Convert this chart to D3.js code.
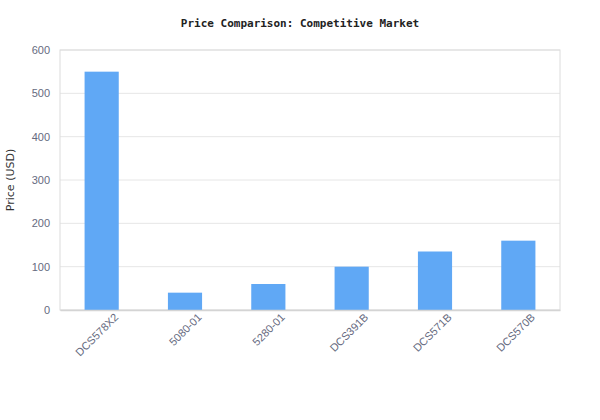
<!DOCTYPE html>
<html><head><meta charset="utf-8">
<script src="https://cdn.jsdelivr.net/npm/d3@7"></script>
<style>body{margin:0;background:#fff}</style>
</head><body><div id="chart"></div>
<script>
const models = ["DCS578X2", "5080-01", "5280-01", "DCS391B", "DCS571B", "DCS570B"];
const prices = [550, 40, 60, 100, 135, 160];
const yTicks = [0, 100, 200, 300, 400, 500, 600];

const svgWidth = 600, svgHeight = 420;
const margin = {top: 50, right: 40, bottom: 110, left: 60};
const width = svgWidth - margin.left - margin.right;
const height = svgHeight - margin.top - margin.bottom;

const svg = d3.select("#chart").append("svg")
    .attr("width", svgWidth).attr("height", svgHeight)
    .style("font-family", "'DejaVu Sans', sans-serif");

svg.append("text")
    .attr("x", svgWidth / 2).attr("y", 27)
    .attr("text-anchor", "middle")
    .style("font-family", "'DejaVu Sans Mono', monospace")
    .style("font-weight", "bold").style("font-size", "11px")
    .attr("fill", "#222")
    .text("Price Comparison: Competitive Market");

const g = svg.append("g").attr("transform", `translate(${margin.left},${margin.top})`);

const x = d3.scaleBand().domain(models).range([0, width]).paddingInner(0.59).paddingOuter(0.295);
const y = d3.scaleLinear().domain([0, 600]).range([height, 0]);

// gridlines
g.selectAll(".grid").data(yTicks).join("line")
    .attr("x1", 0).attr("x2", width)
    .attr("y1", d => y(d)).attr("y2", d => y(d))
    .attr("stroke", "#e6e6e6");

g.append("rect").attr("width", width).attr("height", height)
    .attr("fill", "none").attr("stroke", "#dcdcdc");

g.selectAll(".bar").data(prices).join("rect")
    .attr("x", (d, i) => x(models[i]))
    .attr("width", x.bandwidth())
    .attr("y", d => y(d))
    .attr("height", d => height - y(d))
    .attr("fill", "#60a8f5");

const yAxis = g.append("g").call(d3.axisLeft(y).tickValues(yTicks).tickSize(0).tickPadding(10));
yAxis.select(".domain").remove();
yAxis.selectAll("text").attr("fill", "#666a80").style("font-size", "11px");

const xAxis = g.append("g").attr("transform", `translate(0,${height})`)
    .call(d3.axisBottom(x).tickSize(0).tickPadding(8));
xAxis.select(".domain").attr("stroke", "#d4d4d4").attr("stroke-width", 1.5);
xAxis.selectAll("text")
    .attr("fill", "#666a80").style("font-size", "11px")
    .attr("text-anchor", "end")
    .attr("dx", "0.6em").attr("dy", "0.9em")
    .attr("transform", "rotate(-45)");

svg.append("text")
    .attr("transform", `translate(14,${margin.top + height / 2}) rotate(-90)`)
    .attr("text-anchor", "middle")
    .style("font-size", "11px").attr("fill", "#333")
    .text("Price (USD)");
</script></body></html>
